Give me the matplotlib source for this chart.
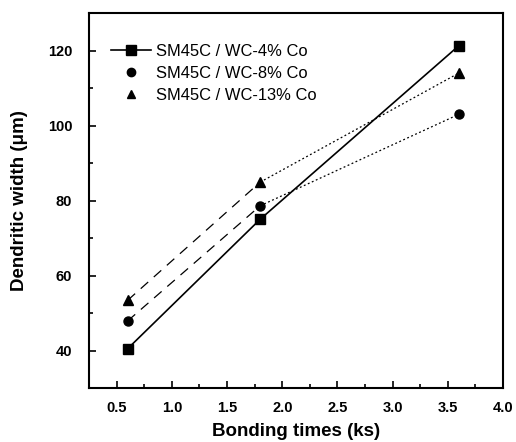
import matplotlib
matplotlib.use("Agg")
import matplotlib.pyplot as plt
from matplotlib.lines import Line2D
from matplotlib.ticker import MultipleLocator

times = [0.6, 1.8, 3.6]
labels = ["SM45C / WC-4% Co", "SM45C / WC-8% Co", "SM45C / WC-13% Co"]
co4 = [40.5, 75.0, 121.3]
co8 = [47.9, 78.6, 103.0]
co13 = [53.4, 84.9, 114.0]

plt.rcParams['font.family'] = ['Liberation Sans', 'DejaVu Sans']

fig = plt.figure(figsize=(5.16, 4.42), dpi=100)
ax = fig.add_axes([0.1725, 0.122, 0.8025, 0.8486])

# Series 1: solid
ax.plot(times, co4, color='black', lw=1.2, marker='s', ms=7, zorder=3)
# Series 2 and 3: dashed first segment, dotted second segment
for vals, mk, ms in [(co8, 'o', 6.5), (co13, '^', 6.5)]:
    ax.plot(times[:2], vals[:2], color='black', lw=0.9, ls=(0, (8, 6)), zorder=2)
    ax.plot(times[1:], vals[1:], color='black', lw=0.9, ls=(0, (1.5, 2)), zorder=2)
    ax.plot(times, vals, ls='none', marker=mk, ms=ms, color='black', zorder=3)

ax.set_xlim(0.25, 4.0)
ax.set_ylim(30, 130)
ax.xaxis.set_major_locator(MultipleLocator(0.5))
ax.xaxis.set_minor_locator(MultipleLocator(0.25))
ax.yaxis.set_minor_locator(MultipleLocator(10))
ax.set_yticks([40, 60, 80, 100, 120])
ax.tick_params(which='both', direction='in', top=False, right=False, width=1.2)
ax.tick_params(which='major', length=5, labelsize=10.5)
ax.tick_params(axis='x', which='major', pad=9)
ax.tick_params(axis='y', which='major', pad=12)
ax.tick_params(which='minor', length=3)
for lab in ax.get_xticklabels() + ax.get_yticklabels():
    lab.set_fontweight('bold')
for sp in ax.spines.values():
    sp.set_linewidth(1.5)

ax.set_xlabel("Bonding times (ks)", fontsize=13.5, fontweight='bold', labelpad=6)
ax.set_ylabel("Dendritic width (μm)", fontsize=13.5, fontweight='bold', labelpad=14)

handles = [
    Line2D([], [], color='black', lw=1.2, marker='s', ms=7),
    Line2D([], [], color='black', lw=0, marker='o', ms=6),
    Line2D([], [], color='black', lw=0, marker='^', ms=6),
]
ax.legend(handles, labels, loc='upper left', bbox_to_anchor=(0.025, 0.948),
          frameon=False, fontsize=11.9, handlelength=2.4, handletextpad=0.3,
          labelspacing=0.42, borderaxespad=0.3)

fig.savefig("out.png", dpi=100)
